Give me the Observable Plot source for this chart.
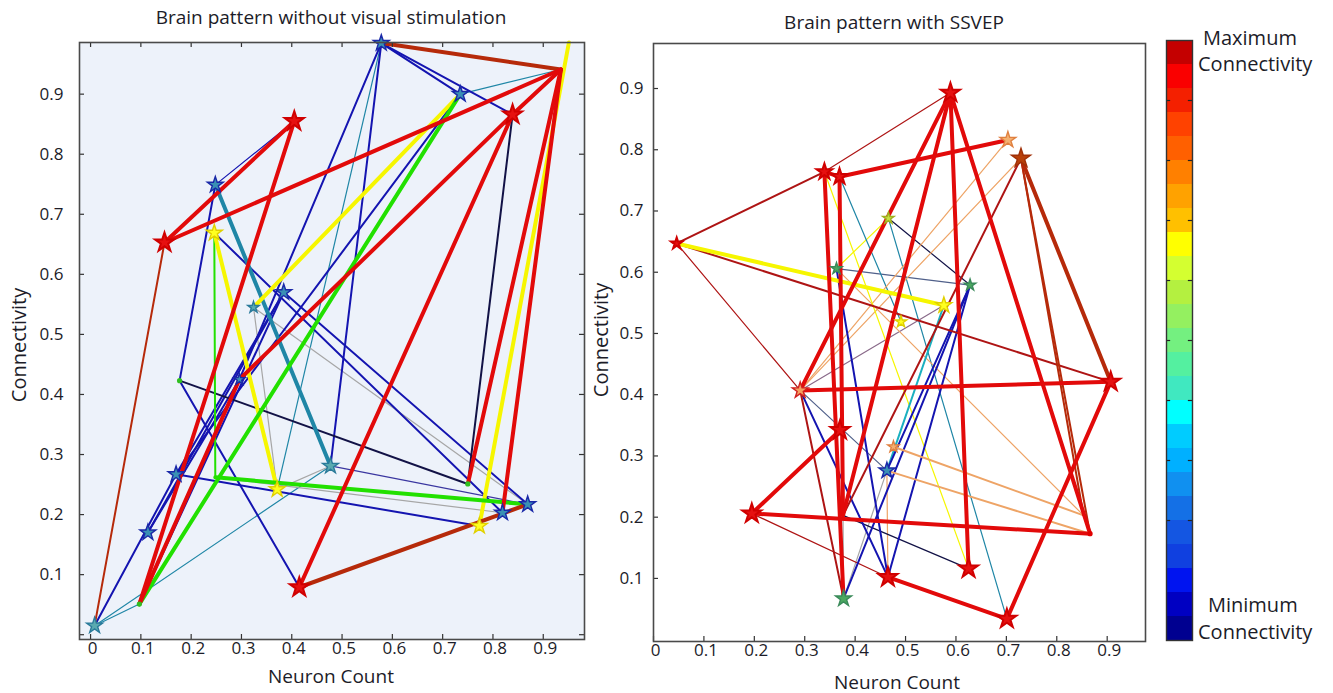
<!DOCTYPE html>
<html>
<head>
<meta charset="utf-8">
<script src="https://cdn.jsdelivr.net/npm/d3@7"></script>
<script src="https://cdn.jsdelivr.net/npm/@observablehq/plot@0.6"></script>
<style>
  body { margin: 0; background: #fff; font-family: "Open Sans", sans-serif; }
  #wrap { position: relative; width: 1333px; height: 693px; overflow: hidden; background: #fff; }
  #wrap svg { position: absolute; top: 0; }
  .lbl { position: absolute; white-space: nowrap; color: #1c1c28; line-height: 1; }
</style>
</head>
<body>
<div id="wrap"></div>
<script>
// ---------------- DATA ----------------
const titles = ["Brain pattern without visual stimulation", "Brain pattern with SSVEP"];
const xLabel = "Neuron Count";
const yLabel = "Connectivity";
const legendTop = ["Maximum", "Connectivity"];
const legendBottom = ["Minimum", "Connectivity"];

const xTicks = [0, 0.1, 0.2, 0.3, 0.4, 0.5, 0.6, 0.7, 0.8, 0.9];
const yTicks = [0.1, 0.2, 0.3, 0.4, 0.5, 0.6, 0.7, 0.8, 0.9];
const leftYTickMarks = [0, 0.1, 0.2, 0.3, 0.4, 0.5, 0.6, 0.7, 0.8, 0.9];

const leftXDomain = [-0.022, 0.982];
const leftYDomain = [-0.008, 0.986];
const rightXDomain = [0, 0.976];
const rightYDomain = [-0.003, 0.9735];

// Left panel nodes (without visual stimulation)
const leftNodeId   = ["L1","L2","L3","L4","L5","L6","L7","L8","L9","L10","L11","L12","L13","L14","L15","L16","L17","L18","L19","L20","L21","L22","L23","L24","L25"];
const leftNodeX    = [0.578,0.935,0.951,0.735,0.839,0.405,0.248,0.147,0.246,0.384,0.324,0.296,0.177,0.170,0.477,0.371,0.248,0.114,0.097,0.008,0.415,0.773,0.819,0.869,0.750];
const leftNodeY    = [0.985,0.941,0.986,0.900,0.866,0.855,0.749,0.653,0.669,0.570,0.545,0.425,0.423,0.267,0.281,0.242,0.262,0.170,0.051,0.015,0.079,0.181,0.203,0.217,0.251];
const leftNodeKind = ["blue","none","none","blue","red","red","blue","red","yellow","blue","teal","blue","gdot","blue","teal","yellow","none","blue","gdot","teal","red","yellow","blue","blue","gdot"];
const leftNodeSize = ["med","none","none","med","big","big","med","big","med","med","small","small","dot","med","med","med","none","med","dot","med","big","med","med","med","dot"];

// Left panel edges
const leftEdgeFrom   = ["L4","L1","L20","L20","L16","L11","L11","L7","L15","L17",
                        "L1","L1","L1","L1","L14","L14","L18","L19","L18","L14","L20","L13","L7","L9","L10","L5","L13","L8","L9",
                        "L7","L9","L11","L22","L17","L19","L1","L21","L8","L8","L6","L19","L12","L21","L23","L25","L5"];
const leftEdgeTo     = ["L2","L16","L15","L19","L15","L16","L24","L6","L24","L23",
                        "L4","L5","L15","L12","L4","L22","L10","L10","L12","L10","L14","L21","L13","L23","L24","L25","L25","L20","L17",
                        "L15","L16","L4","L3","L24","L4","L2","L24","L6","L2","L19","L12","L5","L5","L2","L2","L2"];
const leftEdgeTone   = ["teal","teal","teal","teal","grey","grey","grey","blue","purple","grey",
                        "blue","blue","blue","blue","blue","blue","blue","blue","blue","blue","blue","blue","blue","blue","blue","navy","navy","brown","green",
                        "teal","yellow","yellow","yellow","green","green","brown","brown","red","red","red","red","red","red","red","red","red"];
const leftEdgeWeight = ["thin","thin","thin","thin","thin","thin","thin","thin","thin","thin",
                        "medium","medium","medium","medium","medium","medium","medium","medium","medium","medium","medium","medium","medium","medium","medium","medium","medium","medium","medium",
                        "thick","thick","thick","thick","thick","thick","thick","thick","thick","thick","thick","thick","thick","thick","thick","thick","thick"];

// Right panel nodes (with SSVEP)
const rightNodeId   = ["R1","R2","R3","R4","R5","R6","R7","R8","R9","R10","R11","R12","R13","R14","R15","R16","R17","R18","R19","R20","R21","R22","R23","R24"];
const rightNodeX    = [0.046,0.339,0.369,0.589,0.703,0.729,0.466,0.363,0.628,0.576,0.491,0.291,0.907,0.370,0.476,0.463,0.195,0.377,0.465,0.625,0.701,0.866,0.853,0.376];
const rightNodeY    = [0.647,0.764,0.756,0.893,0.816,0.786,0.688,0.606,0.579,0.546,0.519,0.407,0.421,0.342,0.315,0.276,0.206,0.067,0.102,0.116,0.034,0.173,0.203,0.203];
const rightNodeKind = ["red","red","red","red","peach","brown","lime","green","green","yellow","yellow","orange","red","red","peach","blue","red","green","red","red","red","rdot","none","none"];
const rightNodeSize = ["small","med","med","big","med","big","small","small","small","med","small","med","big","big","small","med","big","med","big","big","big","dot","none","none"];

// Right panel edges
const rightEdgeFrom   = ["R8","R8","R7","R7","R3","R12","R12","R12","R12","R8","R19","R18","R24","R2","R4","R1","R17","R24",
                         "R16","R8","R12","R18","R19","R16","R15","R16","R1","R1","R12","R24","R6","R6",
                         "R1","R6","R4","R4","R4","R4","R3","R12","R17","R17","R19","R21","R2","R3","R2"];
const rightEdgeTo     = ["R7","R9","R9","R21","R11","R16","R10","R5","R6","R23","R16","R16","R18","R20","R2","R12","R19","R20",
                         "R10","R19","R19","R9","R9","R9","R23","R22","R2","R13","R18","R6","R22","R23",
                         "R10","R13","R12","R24","R20","R22","R5","R13","R22","R14","R21","R13","R18","R24","R3"];
const rightEdgeTone   = ["yellow","slate","navy","teal","teal","slate","mauve","peach","peach","peach","peach","grey","grey","yellow","darkred","darkred","darkred","navy",
                         "cyan","blue","blue","blue","blue","blue","peach","peach","darkred","darkred","darkred","darkred","brown","brown",
                         "yellow","brown","red","red","red","red","red","red","red","red","red","red","red","red","red"];
const rightEdgeWeight = ["thin","thin","thin","thin","thin","thin","thin","thin","thin","thin","thin","thin","thin","thin","thin","thin","thin","thin",
                         "medium","medium","medium","medium","medium","medium","medium","medium","medium","medium","medium","medium","medium","medium",
                         "thick","thick","thick","thick","thick","thick","thick","thick","thick","thick","thick","thick","thick","thick","thick"];

// Colour bar bands, top (maximum) to bottom (minimum)
const colorbarBands = ["#c40000","#fa0000","#f42000","#ff4200","#ff6000","#ff8000","#ffa200","#ffc000","#ffff00","#d4ff30",
                       "#b4f040","#94f060","#74f080","#54f0a0","#40e8c0","#00ffff","#00ccff","#00b0ff","#1090f0","#1470e6",
                       "#1456e2","#1040e0","#0014f0","#0000c2","#000090"];
const colorbarTicks = [2.5, 5, 7.5, 10, 12.5, 15, 17.5, 20];

// ---------------- STYLES ----------------
const tonePalette = {
  red: "#e20a0a", darkred: "#ae1414", brown: "#b62a0a", yellow: "#f6f600", green: "#22e000",
  teal: "#1f86a6", cyan: "#1ab0c0", blue: "#1414b0", navy: "#121246", grey: "#a6a6a6",
  purple: "#3a36a0", peach: "#eea466", mauve: "#8a6a8a", slate: "#50608a"
};
const weightPx = {thin: 1.2, medium: 2, thick: 4};
const starFill   = {red:"#e61010", blue:"#3a90b4", yellow:"#ffff20", teal:"#5aaab0", green:"#4aa860", lime:"#c8e040",
                    peach:"#f4b070", brown:"#b8400a", orange:"#f4a060"};
const starStroke = {red:"#d00000", blue:"#1a28a8", yellow:"#e0d000", teal:"#2a7a9a", green:"#3a8a5a", lime:"#a0b020",
                    peach:"#e08040", brown:"#a03008", orange:"#d02020"};
const starR = {big: 6, med: 5, small: 3.6};
const dotFill = {gdot: "#30c020", rdot: "#e00000"};

// ---------------- BUILD ----------------
function buildNodes(ids, xs, ys, kinds, sizes) {
  return ids.map((id, i) => ({id, x: xs[i], y: ys[i], kind: kinds[i], size: sizes[i]}));
}
function buildEdges(nodes, from, to, tones, weights) {
  const m = new Map(nodes.map(n => [n.id, n]));
  const order = {thin: 0, medium: 1, thick: 2};
  return from.map((f, i) => ({a: m.get(f), b: m.get(to[i]), tone: tones[i], weight: weights[i]}))
             .sort((p, q) => order[p.weight] - order[q.weight]);
}

const wrap = document.getElementById("wrap");

function panel(cfg) {
  const nodes = buildNodes(cfg.ids, cfg.xs, cfg.ys, cfg.kinds, cfg.sizes);
  const edges = buildEdges(nodes, cfg.from, cfg.to, cfg.tones, cfg.weights);
  const [x0, x1] = cfg.xDomain, [y0, y1] = cfg.yDomain;
  const pxX = (x1 - x0) / (cfg.width - cfg.ml - cfg.mr);
  const pxY = (y1 - y0) / (cfg.height - cfg.mt - cfg.mb);
  const tl = 5;
  const marks = [
    Plot.frame({fill: cfg.bg, stroke: null}),
    Plot.link(edges, {x1: d => d.a.x, y1: d => d.a.y, x2: d => d.b.x, y2: d => d.b.y,
      stroke: d => tonePalette[d.tone], strokeWidth: d => weightPx[d.weight], strokeLinecap: "round"}),
    Plot.dot(nodes.filter(d => d.size === "dot"), {x: "x", y: "y", r: 2.6, fill: d => dotFill[d.kind], stroke: null})
  ];
  for (const s of ["small", "med", "big"]) {
    marks.push(Plot.dot(nodes.filter(d => d.size === s), {x: "x", y: "y", symbol: "star", r: starR[s],
      fill: d => starFill[d.kind], stroke: d => starStroke[d.kind], strokeWidth: d => d.kind === "red" ? 2 : 1.4}));
  }
  // inward tick marks
  marks.push(Plot.ruleX(cfg.xTickMarks, {x: d => d, y1: () => y0, y2: () => y0 + tl * pxY, stroke: "#333", strokeWidth: 1.2}));
  marks.push(Plot.ruleY(cfg.yTickMarks, {y: d => d, x1: () => x0, x2: () => x0 + tl * pxX, stroke: "#333", strokeWidth: 1.2}));
  if (cfg.allSides) {
    marks.push(Plot.ruleX(cfg.xTickMarks, {x: d => d, y1: () => y1, y2: () => y1 - tl * pxY, stroke: "#333", strokeWidth: 1.2}));
    marks.push(Plot.ruleY(cfg.yTickMarks, {y: d => d, x1: () => x1, x2: () => x1 - tl * pxX, stroke: "#333", strokeWidth: 1.2}));
  }
  marks.push(Plot.frame({stroke: "#4a4a4a", strokeWidth: 1.6}));
  marks.push(Plot.axisX({ticks: xTicks, tickSize: 0, tickPadding: 2, tickFormat: d => String(d), label: null, dx: 2}));
  marks.push(Plot.axisY({ticks: yTicks, tickSize: 0, tickPadding: cfg.yPad, tickFormat: d => String(d), label: null}));
  const svg = Plot.plot({
    width: cfg.width, height: cfg.height,
    marginLeft: cfg.ml, marginRight: cfg.mr, marginTop: cfg.mt, marginBottom: cfg.mb,
    x: {domain: cfg.xDomain}, y: {domain: cfg.yDomain},
    color: {type: "identity"},
    marks
  });
  svg.style.left = cfg.left + "px";
  svg.style.overflow = "visible";
  svg.style.background = "transparent";
  svg.querySelectorAll("text").forEach(t => {
    t.style.fontSize = "17px";
    t.style.fontFamily = '"Open Sans", sans-serif';
    t.style.fill = "#1c1c28";
  });
  wrap.appendChild(svg);
}

panel({left: 0, width: 600, height: 693, ml: 79, mr: 16, mt: 42, mb: 54, bg: "#edf2fa", yPad: 16, allSides: true,
  xDomain: leftXDomain, yDomain: leftYDomain, xTickMarks: xTicks, yTickMarks: leftYTickMarks,
  ids: leftNodeId, xs: leftNodeX, ys: leftNodeY, kinds: leftNodeKind, sizes: leftNodeSize,
  from: leftEdgeFrom, to: leftEdgeTo, tones: leftEdgeTone, weights: leftEdgeWeight});

panel({left: 590, width: 570, height: 693, ml: 63, mr: 15, mt: 43, mb: 52, bg: "#ffffff", yPad: 10, allSides: false,
  xDomain: rightXDomain, yDomain: rightYDomain, xTickMarks: xTicks, yTickMarks: yTicks,
  ids: rightNodeId, xs: rightNodeX, ys: rightNodeY, kinds: rightNodeKind, sizes: rightNodeSize,
  from: rightEdgeFrom, to: rightEdgeTo, tones: rightEdgeTone, weights: rightEdgeWeight});

// Colour bar
{
  const bands = colorbarBands.map((c, i) => ({c, i}));
  const svg = Plot.plot({
    width: 40, height: 693, marginLeft: 6, marginRight: 8, marginTop: 40, marginBottom: 53,
    x: {domain: [0, 1], axis: null}, y: {domain: [colorbarBands.length, 0], axis: null},
    color: {type: "identity"},
    marks: [
      Plot.rect(bands, {x1: () => 0, x2: () => 1, y1: d => d.i, y2: d => d.i + 1, fill: d => d.c}),
      Plot.ruleY(colorbarTicks, {y: d => d, x1: () => 0, x2: () => 0.16, stroke: "#222", strokeWidth: 1.2}),
      Plot.ruleY(colorbarTicks, {y: d => d, x1: () => 0.84, x2: () => 1, stroke: "#222", strokeWidth: 1.2}),
      Plot.frame({stroke: "#333", strokeWidth: 1.4})
    ]
  });
  svg.style.left = "1160px";
  svg.style.background = "transparent";
  wrap.appendChild(svg);
}

// ---------------- TEXT ----------------
function addText(text, x, y, size, opts = {}) {
  const d = document.createElement("div");
  d.className = "lbl";
  d.textContent = text;
  d.style.fontSize = size + "px";
  d.style.left = x + "px";
  d.style.top = y + "px";
  const tx = opts.anchor === "start" ? "0" : "-50%";
  d.style.transform = `translate(${tx}, -50%)` + (opts.rotate ? ` rotate(${opts.rotate}deg)` : "");
  wrap.appendChild(d);
}
addText(titles[0], 331, 17, 19);
addText(titles[1], 894, 22, 19);
addText(xLabel, 331, 676, 19);
addText(xLabel, 897, 682, 19);
addText(yLabel, 19, 345, 20, {rotate: -90});
addText(yLabel, 601, 340, 20, {rotate: -90});
addText(legendTop[0], 1203, 38, 20, {anchor: "start"});
addText(legendTop[1], 1198, 64, 20, {anchor: "start"});
addText(legendBottom[0], 1208, 605, 20, {anchor: "start"});
addText(legendBottom[1], 1198, 632, 20, {anchor: "start"});
</script>
</body>
</html>
